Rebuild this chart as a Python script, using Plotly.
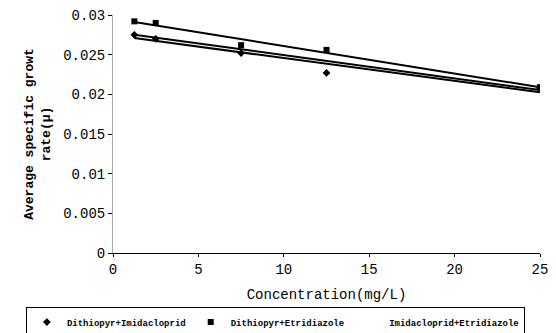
import numpy as np
import plotly.graph_objects as go

conc = [1.25, 2.5, 7.5, 12.5, 25]
dith_imid = [0.0275, 0.0270, 0.0252, 0.0227, 0.0208]
dith_etri = [0.0292, 0.0290, 0.0262, 0.0256, 0.0209]
imid_etri = [0.0277, 0.0271, 0.0258, 0.0238, 0.0207]

names = ["Dithiopyr+Imidacloprid", "Dithiopyr+Etridiazole", "Imidacloprid+Etridiazole"]
symbols = ["diamond", "square", "circle"]
mcolors = ["black", "black", "rgba(255,255,255,0)"]
series = [dith_imid, dith_etri, imid_etri]

fig = go.Figure()
x = np.array(conc)
xl = np.array([x.min(), x.max()])
for ys in series:
    k, b = np.polyfit(x, np.array(ys), 1)
    fig.add_trace(go.Scatter(x=xl, y=k * xl + b, mode="lines",
                             line=dict(color="black", width=2), showlegend=False,
                             hoverinfo="skip"))
for ys, nm, sy, mc in zip(series, names, symbols, mcolors):
    fig.add_trace(go.Scatter(x=conc, y=ys, mode="markers", name=nm,
                             marker=dict(symbol=sy, size=6, color=mc,
                                         line=dict(width=0))))

mono = "Liberation Mono"
fig.update_layout(
    width=556, height=333,
    margin=dict(l=113, r=16, t=15, b=80, autoexpand=False),
    paper_bgcolor="white", plot_bgcolor="white",
    font=dict(family=mono, size=14, color="black"),
    xaxis=dict(range=[0, 25], dtick=5, showgrid=False, zeroline=False,
               showline=True, linecolor="black", linewidth=1,
               ticks="outside", ticklen=3, tickcolor="black",
               tickfont=dict(family=mono, size=14),
               title=dict(text="Concentration(mg/L)", font=dict(family=mono, size=14),
                          standoff=12)),
    yaxis=dict(range=[0, 0.03], dtick=0.005, showgrid=False, zeroline=False,
               showline=True, linecolor="#aaaaaa", linewidth=1,
               ticks="outside", ticklen=4, tickcolor="black",
               tickfont=dict(family=mono, size=14),
               title=dict(text="Average specific growt<br>rate(μ)",
                          font=dict(family=mono, size=13, weight="bold"),
                          standoff=9)),
    legend=dict(orientation="h", x=-0.204, xanchor="left", y=-0.225, yanchor="top",
                bordercolor="black", borderwidth=1, itemwidth=30,
                font=dict(family=mono, size=9, weight="bold"),
                tracegroupgap=0),
)
fig.write_html("out.html", config={"displayModeBar": False},
               post_script="document.body.style.margin='0';document.body.style.overflow='hidden';")
